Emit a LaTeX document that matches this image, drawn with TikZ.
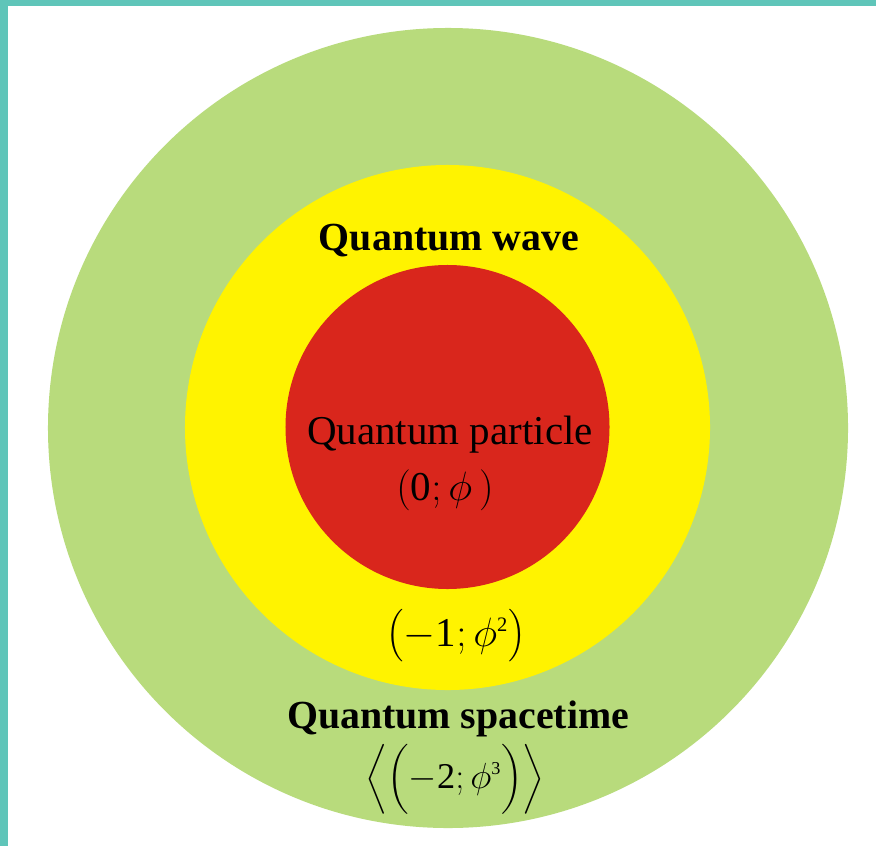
\documentclass[tikz,border=0pt]{standalone}
\usepackage{fix-cm}
\usepackage{amsmath}
\usepackage{fontspec}
\setmainfont{Liberation Serif}
\usetikzlibrary{positioning}
\definecolor{frameteal}{RGB}{95,197,185}
\definecolor{spacegreen}{RGB}{184,219,124}
\definecolor{waveyellow}{RGB}{255,243,0}
\definecolor{particlered}{RGB}{217,38,28}

\begin{document}
\begin{tikzpicture}[
  x=0.03cm, y=-0.03cm,
  disc/.style={circle, draw=none, inner sep=0pt},
  title/.style={font=\fontsize{34}{34}\selectfont\bfseries, inner sep=0pt, anchor=base},
  plain/.style={font=\fontsize{35}{34}\selectfont, inner sep=0pt}
  ]
  \useasboundingbox[fill=white] (0,0) rectangle (876,846);
  % frame strips
  \fill[frameteal] (0,0) rectangle (876,6);
  \fill[frameteal] (0,0) rectangle (8,846);
  % rings
  \node[disc, fill=spacegreen, minimum size=24cm] (spacetime) at (448,428) {};
  \node[disc, fill=waveyellow, minimum size=15.75cm] (wave) at (447.5,427.5) {};
  \node[disc, fill=particlered, minimum size=9.72cm] (particle) at (447.5,427) {};
  % labels
  \node[title] (wavename) at (449,250) {Quantum wave};
  \node[plain, anchor=base] (particlename) at (450,444) {Quantum particle};
  \node[plain] (particlecode) at (445,490) {$(\text{0};\phi\,)$};
  \node[plain] (wavecode) at (456,636) {$\bigl(-\text{1};\phi^{\scriptscriptstyle\text{2}}\bigr)$};
  \node[title] (spacename) at (458,728) {Quantum spacetime};
  \node[plain, font=\fontsize{31}{31}\selectfont] (spacecode) at (455,779)
    {$\Bigl\langle\Bigl(-\text{2};\phi^{\scriptscriptstyle\text{3}}\Bigr)\Bigr\rangle$};
\end{tikzpicture}
\end{document}
